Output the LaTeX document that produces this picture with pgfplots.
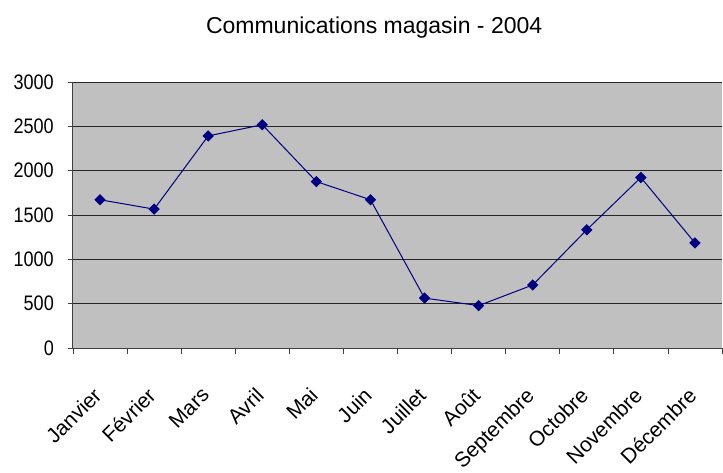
\documentclass[border=0pt]{standalone}
\usepackage{fontspec}
\setmainfont{Liberation Sans}
\newfontfamily\narrowfont{Liberation Sans}[FakeStretch=0.86]
\usepackage{pgfplots}
\pgfplotsset{compat=1.18}
\definecolor{plotbg}{HTML}{C0C0C0}
\definecolor{navy}{HTML}{000080}
\begin{document}
\begin{tikzpicture}[x=1pt,y=1pt]
\useasboundingbox (-73pt,-124pt) rectangle (650pt,348pt);
\begin{axis}[
  scale only axis,
  width=649pt, height=266pt,
  at={(0,0)}, anchor=south west,
  xmin=0.5, xmax=12.5,
  ymin=0, ymax=3000,
  axis x line*=bottom, axis y line*=left,
  axis line style={line width=1pt, draw=black!75},
  axis background/.style={fill=plotbg},
  xtick={1,...,12},
  xticklabels={Janvier,Février,Mars,Avril,Mai,Juin,Juillet,Août,Septembre,Octobre,Novembre,Décembre},
  major x tick style={draw=none},
  minor xtick={0.5,1.5,...,12.5},
  minor x tick style={line width=0.8pt, draw=black!75},
  minor tick length=6pt,
  ytick={0,500,...,3000},
  major tick length=5pt,
  major y tick style={line width=0.8pt, draw=black!75},
  tick align=outside,
  ymajorgrids,
  grid style={line width=1pt, draw=black!85},
  /pgf/number format/assume math mode=true,
  /pgf/number format/1000 sep={},
  yticklabel style={font=\narrowfont\fontsize{21}{21}\selectfont, inner sep=0pt, xshift=-14pt},
  xticklabel style={font=\fontsize{21}{21}\selectfont, xshift=-8pt, yshift=-33pt, rotate=45, anchor=north east, inner sep=0pt},
  title={Communications magasin - 2004},
  title style={font=\fontsize{23}{23}\selectfont, at={(rel axis cs:0.464,1.184)}, anchor=center},
  clip=false,
]
\addplot[color=navy, line width=1pt, mark=square*, mark size=3.5pt, mark options={rotate=45, fill=navy, draw=navy}]
  coordinates {
  (1,1672) (2,1566) (3,2392) (4,2518) (5,1877) (6,1672)
  (7,563) (8,478) (9,711) (10,1333) (11,1923) (12,1185)
  };
\end{axis}
\end{tikzpicture}
\end{document}
